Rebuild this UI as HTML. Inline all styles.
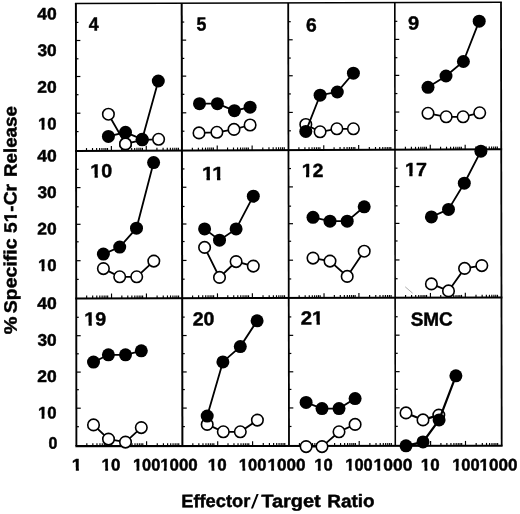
<!DOCTYPE html>
<html><head><meta charset="utf-8"><title>Figure</title>
<style>html,body{margin:0;padding:0;background:#fff;}body{width:520px;height:514px;overflow:hidden;font-family:"Liberation Sans",sans-serif;}svg{display:block;}</style>
</head><body>
<svg width="520" height="514" viewBox="0 0 520 514">
<rect width="520" height="514" fill="#fff"/>
<g stroke="#000" fill="none" stroke-linecap="butt">
<line x1="74.90" y1="3.60" x2="501.90" y2="2.20" stroke-width="1.5"/>
<line x1="75.07" y1="150.90" x2="502.13" y2="149.30" stroke-width="2.0"/>
<line x1="75.23" y1="298.40" x2="502.37" y2="297.60" stroke-width="2.0"/>
<line x1="75.40" y1="446.10" x2="502.60" y2="445.70" stroke-width="2.1"/>
<line x1="75.90" y1="3.60" x2="76.40" y2="446.10" stroke-width="1.9"/>
<line x1="181.70" y1="3.25" x2="182.40" y2="446.00" stroke-width="2.0"/>
<line x1="288.20" y1="2.90" x2="289.00" y2="445.90" stroke-width="1.8"/>
<line x1="394.80" y1="2.55" x2="395.30" y2="445.80" stroke-width="1.6"/>
<line x1="501.00" y1="2.20" x2="501.70" y2="445.70" stroke-width="1.8"/>
<line x1="75.92" y1="22.40" x2="78.42" y2="22.40" stroke-width="1.2"/>
<line x1="75.94" y1="40.50" x2="80.34" y2="40.50" stroke-width="1.2"/>
<line x1="75.96" y1="58.80" x2="78.46" y2="58.80" stroke-width="1.2"/>
<line x1="75.98" y1="76.50" x2="80.38" y2="76.50" stroke-width="1.2"/>
<line x1="76.00" y1="94.70" x2="78.50" y2="94.70" stroke-width="1.2"/>
<line x1="76.02" y1="113.20" x2="80.42" y2="113.20" stroke-width="1.2"/>
<line x1="76.05" y1="131.60" x2="78.55" y2="131.60" stroke-width="1.2"/>
<line x1="181.73" y1="22.05" x2="184.23" y2="22.05" stroke-width="1.2"/>
<line x1="181.76" y1="40.14" x2="186.16" y2="40.14" stroke-width="1.2"/>
<line x1="181.79" y1="58.43" x2="184.29" y2="58.43" stroke-width="1.2"/>
<line x1="181.82" y1="76.13" x2="186.22" y2="76.13" stroke-width="1.2"/>
<line x1="181.84" y1="94.32" x2="184.34" y2="94.32" stroke-width="1.2"/>
<line x1="181.87" y1="112.81" x2="186.27" y2="112.81" stroke-width="1.2"/>
<line x1="181.90" y1="131.21" x2="184.40" y2="131.21" stroke-width="1.2"/>
<line x1="288.24" y1="21.69" x2="290.74" y2="21.69" stroke-width="1.2"/>
<line x1="288.27" y1="39.78" x2="292.67" y2="39.78" stroke-width="1.2"/>
<line x1="288.30" y1="58.06" x2="290.80" y2="58.06" stroke-width="1.2"/>
<line x1="288.33" y1="75.75" x2="292.73" y2="75.75" stroke-width="1.2"/>
<line x1="288.37" y1="93.94" x2="290.87" y2="93.94" stroke-width="1.2"/>
<line x1="288.40" y1="112.43" x2="292.80" y2="112.43" stroke-width="1.2"/>
<line x1="288.43" y1="130.81" x2="290.93" y2="130.81" stroke-width="1.2"/>
<line x1="394.82" y1="21.33" x2="397.32" y2="21.33" stroke-width="1.2"/>
<line x1="394.84" y1="39.41" x2="399.24" y2="39.41" stroke-width="1.2"/>
<line x1="394.86" y1="57.69" x2="397.36" y2="57.69" stroke-width="1.2"/>
<line x1="394.88" y1="75.38" x2="399.28" y2="75.38" stroke-width="1.2"/>
<line x1="394.90" y1="93.56" x2="397.40" y2="93.56" stroke-width="1.2"/>
<line x1="394.92" y1="112.04" x2="399.32" y2="112.04" stroke-width="1.2"/>
<line x1="394.95" y1="130.42" x2="397.45" y2="130.42" stroke-width="1.2"/>
<line x1="76.09" y1="169.30" x2="78.59" y2="169.30" stroke-width="1.2"/>
<line x1="76.11" y1="187.60" x2="80.51" y2="187.60" stroke-width="1.2"/>
<line x1="76.13" y1="206.80" x2="78.63" y2="206.80" stroke-width="1.2"/>
<line x1="76.15" y1="224.30" x2="80.55" y2="224.30" stroke-width="1.2"/>
<line x1="76.17" y1="241.80" x2="78.67" y2="241.80" stroke-width="1.2"/>
<line x1="76.19" y1="260.70" x2="80.59" y2="260.70" stroke-width="1.2"/>
<line x1="76.21" y1="279.40" x2="78.71" y2="279.40" stroke-width="1.2"/>
<line x1="181.96" y1="168.93" x2="184.46" y2="168.93" stroke-width="1.2"/>
<line x1="181.99" y1="187.25" x2="186.39" y2="187.25" stroke-width="1.2"/>
<line x1="182.02" y1="206.48" x2="184.52" y2="206.48" stroke-width="1.2"/>
<line x1="182.05" y1="224.00" x2="186.45" y2="224.00" stroke-width="1.2"/>
<line x1="182.08" y1="241.53" x2="184.58" y2="241.53" stroke-width="1.2"/>
<line x1="182.11" y1="260.45" x2="186.51" y2="260.45" stroke-width="1.2"/>
<line x1="182.14" y1="279.18" x2="184.64" y2="279.18" stroke-width="1.2"/>
<line x1="288.50" y1="168.55" x2="291.00" y2="168.55" stroke-width="1.2"/>
<line x1="288.53" y1="186.90" x2="292.93" y2="186.90" stroke-width="1.2"/>
<line x1="288.57" y1="206.15" x2="291.07" y2="206.15" stroke-width="1.2"/>
<line x1="288.60" y1="223.70" x2="293.00" y2="223.70" stroke-width="1.2"/>
<line x1="288.63" y1="241.25" x2="291.13" y2="241.25" stroke-width="1.2"/>
<line x1="288.67" y1="260.20" x2="293.07" y2="260.20" stroke-width="1.2"/>
<line x1="288.70" y1="278.95" x2="291.20" y2="278.95" stroke-width="1.2"/>
<line x1="394.99" y1="168.18" x2="397.49" y2="168.18" stroke-width="1.2"/>
<line x1="395.01" y1="186.55" x2="399.41" y2="186.55" stroke-width="1.2"/>
<line x1="395.03" y1="205.83" x2="397.53" y2="205.83" stroke-width="1.2"/>
<line x1="395.05" y1="223.40" x2="399.45" y2="223.40" stroke-width="1.2"/>
<line x1="395.07" y1="240.98" x2="397.57" y2="240.98" stroke-width="1.2"/>
<line x1="395.09" y1="259.95" x2="399.49" y2="259.95" stroke-width="1.2"/>
<line x1="395.11" y1="278.73" x2="397.61" y2="278.73" stroke-width="1.2"/>
<line x1="76.25" y1="317.30" x2="78.75" y2="317.30" stroke-width="1.2"/>
<line x1="76.28" y1="335.70" x2="80.68" y2="335.70" stroke-width="1.2"/>
<line x1="76.30" y1="353.80" x2="78.80" y2="353.80" stroke-width="1.2"/>
<line x1="76.32" y1="372.10" x2="80.72" y2="372.10" stroke-width="1.2"/>
<line x1="76.34" y1="389.70" x2="78.84" y2="389.70" stroke-width="1.2"/>
<line x1="76.36" y1="408.20" x2="80.76" y2="408.20" stroke-width="1.2"/>
<line x1="76.38" y1="426.70" x2="78.88" y2="426.70" stroke-width="1.2"/>
<line x1="182.20" y1="317.11" x2="184.70" y2="317.11" stroke-width="1.2"/>
<line x1="182.23" y1="335.53" x2="186.63" y2="335.53" stroke-width="1.2"/>
<line x1="182.25" y1="353.64" x2="184.75" y2="353.64" stroke-width="1.2"/>
<line x1="182.28" y1="371.95" x2="186.68" y2="371.95" stroke-width="1.2"/>
<line x1="182.31" y1="389.56" x2="184.81" y2="389.56" stroke-width="1.2"/>
<line x1="182.34" y1="408.08" x2="186.74" y2="408.08" stroke-width="1.2"/>
<line x1="182.37" y1="426.59" x2="184.87" y2="426.59" stroke-width="1.2"/>
<line x1="288.77" y1="316.92" x2="291.27" y2="316.92" stroke-width="1.2"/>
<line x1="288.80" y1="335.35" x2="293.20" y2="335.35" stroke-width="1.2"/>
<line x1="288.83" y1="353.47" x2="291.33" y2="353.47" stroke-width="1.2"/>
<line x1="288.87" y1="371.80" x2="293.27" y2="371.80" stroke-width="1.2"/>
<line x1="288.90" y1="389.42" x2="291.40" y2="389.42" stroke-width="1.2"/>
<line x1="288.93" y1="407.95" x2="293.33" y2="407.95" stroke-width="1.2"/>
<line x1="288.97" y1="426.47" x2="291.47" y2="426.47" stroke-width="1.2"/>
<line x1="395.15" y1="316.74" x2="397.65" y2="316.74" stroke-width="1.2"/>
<line x1="395.18" y1="335.17" x2="399.58" y2="335.17" stroke-width="1.2"/>
<line x1="395.20" y1="353.31" x2="397.70" y2="353.31" stroke-width="1.2"/>
<line x1="395.22" y1="371.65" x2="399.62" y2="371.65" stroke-width="1.2"/>
<line x1="395.24" y1="389.29" x2="397.74" y2="389.29" stroke-width="1.2"/>
<line x1="395.26" y1="407.82" x2="399.66" y2="407.82" stroke-width="1.2"/>
<line x1="395.28" y1="426.36" x2="397.78" y2="426.36" stroke-width="1.2"/>
<line x1="86.50" y1="150.86" x2="86.50" y2="148.06" stroke-width="1.15"/>
<line x1="92.51" y1="150.84" x2="92.51" y2="148.04" stroke-width="1.15"/>
<line x1="96.63" y1="150.82" x2="96.63" y2="148.02" stroke-width="1.15"/>
<line x1="99.63" y1="150.81" x2="99.63" y2="148.01" stroke-width="1.15"/>
<line x1="101.94" y1="150.80" x2="101.94" y2="148.00" stroke-width="1.15"/>
<line x1="104.00" y1="150.79" x2="104.00" y2="147.99" stroke-width="1.15"/>
<line x1="105.85" y1="150.79" x2="105.85" y2="147.99" stroke-width="1.15"/>
<line x1="107.51" y1="150.78" x2="107.51" y2="147.98" stroke-width="1.15"/>
<line x1="111.37" y1="150.77" x2="111.37" y2="145.97" stroke-width="1.15"/>
<line x1="121.68" y1="150.73" x2="121.68" y2="147.93" stroke-width="1.15"/>
<line x1="127.63" y1="150.71" x2="127.63" y2="147.91" stroke-width="1.15"/>
<line x1="131.69" y1="150.69" x2="131.69" y2="147.89" stroke-width="1.15"/>
<line x1="134.67" y1="150.68" x2="134.67" y2="147.88" stroke-width="1.15"/>
<line x1="136.95" y1="150.67" x2="136.95" y2="147.87" stroke-width="1.15"/>
<line x1="138.98" y1="150.66" x2="138.98" y2="147.86" stroke-width="1.15"/>
<line x1="140.81" y1="150.66" x2="140.81" y2="147.86" stroke-width="1.15"/>
<line x1="142.45" y1="150.65" x2="142.45" y2="147.85" stroke-width="1.15"/>
<line x1="146.27" y1="150.64" x2="146.27" y2="145.84" stroke-width="1.15"/>
<line x1="156.93" y1="150.60" x2="156.93" y2="147.80" stroke-width="1.15"/>
<line x1="163.09" y1="150.57" x2="163.09" y2="147.77" stroke-width="1.15"/>
<line x1="167.29" y1="150.56" x2="167.29" y2="147.76" stroke-width="1.15"/>
<line x1="170.37" y1="150.55" x2="170.37" y2="147.75" stroke-width="1.15"/>
<line x1="172.73" y1="150.54" x2="172.73" y2="147.74" stroke-width="1.15"/>
<line x1="174.83" y1="150.53" x2="174.83" y2="147.73" stroke-width="1.15"/>
<line x1="176.73" y1="150.52" x2="176.73" y2="147.72" stroke-width="1.15"/>
<line x1="178.42" y1="150.51" x2="178.42" y2="147.71" stroke-width="1.15"/>
<line x1="192.36" y1="150.46" x2="192.36" y2="147.66" stroke-width="1.15"/>
<line x1="198.38" y1="150.44" x2="198.38" y2="147.64" stroke-width="1.15"/>
<line x1="202.49" y1="150.42" x2="202.49" y2="147.62" stroke-width="1.15"/>
<line x1="205.50" y1="150.41" x2="205.50" y2="147.61" stroke-width="1.15"/>
<line x1="207.81" y1="150.40" x2="207.81" y2="147.60" stroke-width="1.15"/>
<line x1="209.86" y1="150.40" x2="209.86" y2="147.60" stroke-width="1.15"/>
<line x1="211.72" y1="150.39" x2="211.72" y2="147.59" stroke-width="1.15"/>
<line x1="213.37" y1="150.38" x2="213.37" y2="147.58" stroke-width="1.15"/>
<line x1="217.23" y1="150.37" x2="217.23" y2="145.57" stroke-width="1.15"/>
<line x1="227.55" y1="150.33" x2="227.55" y2="147.53" stroke-width="1.15"/>
<line x1="233.49" y1="150.31" x2="233.49" y2="147.51" stroke-width="1.15"/>
<line x1="237.56" y1="150.29" x2="237.56" y2="147.49" stroke-width="1.15"/>
<line x1="240.53" y1="150.28" x2="240.53" y2="147.48" stroke-width="1.15"/>
<line x1="242.81" y1="150.27" x2="242.81" y2="147.47" stroke-width="1.15"/>
<line x1="244.85" y1="150.27" x2="244.85" y2="147.47" stroke-width="1.15"/>
<line x1="246.68" y1="150.26" x2="246.68" y2="147.46" stroke-width="1.15"/>
<line x1="248.32" y1="150.25" x2="248.32" y2="147.45" stroke-width="1.15"/>
<line x1="252.13" y1="150.24" x2="252.13" y2="145.44" stroke-width="1.15"/>
<line x1="262.80" y1="150.20" x2="262.80" y2="147.40" stroke-width="1.15"/>
<line x1="268.95" y1="150.17" x2="268.95" y2="147.37" stroke-width="1.15"/>
<line x1="273.16" y1="150.16" x2="273.16" y2="147.36" stroke-width="1.15"/>
<line x1="276.23" y1="150.15" x2="276.23" y2="147.35" stroke-width="1.15"/>
<line x1="278.59" y1="150.14" x2="278.59" y2="147.34" stroke-width="1.15"/>
<line x1="280.70" y1="150.13" x2="280.70" y2="147.33" stroke-width="1.15"/>
<line x1="282.59" y1="150.12" x2="282.59" y2="147.32" stroke-width="1.15"/>
<line x1="284.29" y1="150.12" x2="284.29" y2="147.32" stroke-width="1.15"/>
<line x1="298.90" y1="150.06" x2="298.90" y2="147.26" stroke-width="1.15"/>
<line x1="304.91" y1="150.04" x2="304.91" y2="147.24" stroke-width="1.15"/>
<line x1="309.03" y1="150.02" x2="309.03" y2="147.22" stroke-width="1.15"/>
<line x1="312.03" y1="150.01" x2="312.03" y2="147.21" stroke-width="1.15"/>
<line x1="314.34" y1="150.00" x2="314.34" y2="147.20" stroke-width="1.15"/>
<line x1="316.40" y1="150.00" x2="316.40" y2="147.20" stroke-width="1.15"/>
<line x1="318.25" y1="149.99" x2="318.25" y2="147.19" stroke-width="1.15"/>
<line x1="319.91" y1="149.98" x2="319.91" y2="147.18" stroke-width="1.15"/>
<line x1="323.77" y1="149.97" x2="323.77" y2="145.17" stroke-width="1.15"/>
<line x1="334.08" y1="149.93" x2="334.08" y2="147.13" stroke-width="1.15"/>
<line x1="340.03" y1="149.91" x2="340.03" y2="147.11" stroke-width="1.15"/>
<line x1="344.09" y1="149.89" x2="344.09" y2="147.09" stroke-width="1.15"/>
<line x1="347.07" y1="149.88" x2="347.07" y2="147.08" stroke-width="1.15"/>
<line x1="349.35" y1="149.87" x2="349.35" y2="147.07" stroke-width="1.15"/>
<line x1="351.38" y1="149.86" x2="351.38" y2="147.06" stroke-width="1.15"/>
<line x1="353.21" y1="149.86" x2="353.21" y2="147.06" stroke-width="1.15"/>
<line x1="354.85" y1="149.85" x2="354.85" y2="147.05" stroke-width="1.15"/>
<line x1="358.67" y1="149.84" x2="358.67" y2="145.04" stroke-width="1.15"/>
<line x1="369.33" y1="149.80" x2="369.33" y2="147.00" stroke-width="1.15"/>
<line x1="375.49" y1="149.77" x2="375.49" y2="146.97" stroke-width="1.15"/>
<line x1="379.69" y1="149.76" x2="379.69" y2="146.96" stroke-width="1.15"/>
<line x1="382.77" y1="149.75" x2="382.77" y2="146.95" stroke-width="1.15"/>
<line x1="385.13" y1="149.74" x2="385.13" y2="146.94" stroke-width="1.15"/>
<line x1="387.23" y1="149.73" x2="387.23" y2="146.93" stroke-width="1.15"/>
<line x1="389.13" y1="149.72" x2="389.13" y2="146.92" stroke-width="1.15"/>
<line x1="390.82" y1="149.72" x2="390.82" y2="146.92" stroke-width="1.15"/>
<line x1="405.40" y1="149.66" x2="405.40" y2="146.86" stroke-width="1.15"/>
<line x1="411.41" y1="149.64" x2="411.41" y2="146.84" stroke-width="1.15"/>
<line x1="415.53" y1="149.62" x2="415.53" y2="146.82" stroke-width="1.15"/>
<line x1="418.53" y1="149.61" x2="418.53" y2="146.81" stroke-width="1.15"/>
<line x1="420.84" y1="149.60" x2="420.84" y2="146.80" stroke-width="1.15"/>
<line x1="422.90" y1="149.60" x2="422.90" y2="146.80" stroke-width="1.15"/>
<line x1="424.75" y1="149.59" x2="424.75" y2="146.79" stroke-width="1.15"/>
<line x1="426.41" y1="149.58" x2="426.41" y2="146.78" stroke-width="1.15"/>
<line x1="430.27" y1="149.57" x2="430.27" y2="144.77" stroke-width="1.15"/>
<line x1="440.58" y1="149.53" x2="440.58" y2="146.73" stroke-width="1.15"/>
<line x1="446.53" y1="149.51" x2="446.53" y2="146.71" stroke-width="1.15"/>
<line x1="450.59" y1="149.49" x2="450.59" y2="146.69" stroke-width="1.15"/>
<line x1="453.57" y1="149.48" x2="453.57" y2="146.68" stroke-width="1.15"/>
<line x1="455.85" y1="149.47" x2="455.85" y2="146.67" stroke-width="1.15"/>
<line x1="457.88" y1="149.46" x2="457.88" y2="146.66" stroke-width="1.15"/>
<line x1="459.71" y1="149.46" x2="459.71" y2="146.66" stroke-width="1.15"/>
<line x1="461.35" y1="149.45" x2="461.35" y2="146.65" stroke-width="1.15"/>
<line x1="465.17" y1="149.44" x2="465.17" y2="144.64" stroke-width="1.15"/>
<line x1="475.83" y1="149.40" x2="475.83" y2="146.60" stroke-width="1.15"/>
<line x1="481.99" y1="149.37" x2="481.99" y2="146.57" stroke-width="1.15"/>
<line x1="486.19" y1="149.36" x2="486.19" y2="146.56" stroke-width="1.15"/>
<line x1="489.27" y1="149.35" x2="489.27" y2="146.55" stroke-width="1.15"/>
<line x1="491.63" y1="149.34" x2="491.63" y2="146.54" stroke-width="1.15"/>
<line x1="493.73" y1="149.33" x2="493.73" y2="146.53" stroke-width="1.15"/>
<line x1="495.63" y1="149.32" x2="495.63" y2="146.52" stroke-width="1.15"/>
<line x1="497.32" y1="149.32" x2="497.32" y2="146.52" stroke-width="1.15"/>
<line x1="86.66" y1="298.38" x2="86.66" y2="295.58" stroke-width="1.15"/>
<line x1="92.68" y1="298.37" x2="92.68" y2="295.57" stroke-width="1.15"/>
<line x1="96.79" y1="298.36" x2="96.79" y2="295.56" stroke-width="1.15"/>
<line x1="99.80" y1="298.36" x2="99.80" y2="295.56" stroke-width="1.15"/>
<line x1="102.11" y1="298.35" x2="102.11" y2="295.55" stroke-width="1.15"/>
<line x1="104.16" y1="298.35" x2="104.16" y2="295.55" stroke-width="1.15"/>
<line x1="106.02" y1="298.34" x2="106.02" y2="295.54" stroke-width="1.15"/>
<line x1="107.67" y1="298.34" x2="107.67" y2="295.54" stroke-width="1.15"/>
<line x1="111.53" y1="298.33" x2="111.53" y2="293.53" stroke-width="1.15"/>
<line x1="121.84" y1="298.31" x2="121.84" y2="295.51" stroke-width="1.15"/>
<line x1="127.79" y1="298.30" x2="127.79" y2="295.50" stroke-width="1.15"/>
<line x1="131.86" y1="298.29" x2="131.86" y2="295.49" stroke-width="1.15"/>
<line x1="134.83" y1="298.29" x2="134.83" y2="295.49" stroke-width="1.15"/>
<line x1="137.11" y1="298.29" x2="137.11" y2="295.49" stroke-width="1.15"/>
<line x1="139.15" y1="298.28" x2="139.15" y2="295.48" stroke-width="1.15"/>
<line x1="140.98" y1="298.28" x2="140.98" y2="295.48" stroke-width="1.15"/>
<line x1="142.62" y1="298.27" x2="142.62" y2="295.47" stroke-width="1.15"/>
<line x1="146.43" y1="298.27" x2="146.43" y2="293.47" stroke-width="1.15"/>
<line x1="157.10" y1="298.25" x2="157.10" y2="295.45" stroke-width="1.15"/>
<line x1="163.25" y1="298.24" x2="163.25" y2="295.44" stroke-width="1.15"/>
<line x1="167.46" y1="298.23" x2="167.46" y2="295.43" stroke-width="1.15"/>
<line x1="170.53" y1="298.22" x2="170.53" y2="295.42" stroke-width="1.15"/>
<line x1="172.89" y1="298.22" x2="172.89" y2="295.42" stroke-width="1.15"/>
<line x1="175.00" y1="298.21" x2="175.00" y2="295.41" stroke-width="1.15"/>
<line x1="176.89" y1="298.21" x2="176.89" y2="295.41" stroke-width="1.15"/>
<line x1="178.59" y1="298.21" x2="178.59" y2="295.41" stroke-width="1.15"/>
<line x1="192.60" y1="298.18" x2="192.60" y2="295.38" stroke-width="1.15"/>
<line x1="198.61" y1="298.17" x2="198.61" y2="295.37" stroke-width="1.15"/>
<line x1="202.73" y1="298.16" x2="202.73" y2="295.36" stroke-width="1.15"/>
<line x1="205.73" y1="298.16" x2="205.73" y2="295.36" stroke-width="1.15"/>
<line x1="208.04" y1="298.15" x2="208.04" y2="295.35" stroke-width="1.15"/>
<line x1="210.10" y1="298.15" x2="210.10" y2="295.35" stroke-width="1.15"/>
<line x1="211.95" y1="298.14" x2="211.95" y2="295.34" stroke-width="1.15"/>
<line x1="213.61" y1="298.14" x2="213.61" y2="295.34" stroke-width="1.15"/>
<line x1="217.47" y1="298.13" x2="217.47" y2="293.33" stroke-width="1.15"/>
<line x1="227.78" y1="298.11" x2="227.78" y2="295.31" stroke-width="1.15"/>
<line x1="233.73" y1="298.10" x2="233.73" y2="295.30" stroke-width="1.15"/>
<line x1="237.79" y1="298.10" x2="237.79" y2="295.30" stroke-width="1.15"/>
<line x1="240.77" y1="298.09" x2="240.77" y2="295.29" stroke-width="1.15"/>
<line x1="243.05" y1="298.09" x2="243.05" y2="295.29" stroke-width="1.15"/>
<line x1="245.08" y1="298.08" x2="245.08" y2="295.28" stroke-width="1.15"/>
<line x1="246.91" y1="298.08" x2="246.91" y2="295.28" stroke-width="1.15"/>
<line x1="248.55" y1="298.08" x2="248.55" y2="295.28" stroke-width="1.15"/>
<line x1="252.37" y1="298.07" x2="252.37" y2="293.27" stroke-width="1.15"/>
<line x1="263.03" y1="298.05" x2="263.03" y2="295.25" stroke-width="1.15"/>
<line x1="269.19" y1="298.04" x2="269.19" y2="295.24" stroke-width="1.15"/>
<line x1="273.39" y1="298.03" x2="273.39" y2="295.23" stroke-width="1.15"/>
<line x1="276.47" y1="298.02" x2="276.47" y2="295.22" stroke-width="1.15"/>
<line x1="278.83" y1="298.02" x2="278.83" y2="295.22" stroke-width="1.15"/>
<line x1="280.93" y1="298.01" x2="280.93" y2="295.21" stroke-width="1.15"/>
<line x1="282.83" y1="298.01" x2="282.83" y2="295.21" stroke-width="1.15"/>
<line x1="284.52" y1="298.01" x2="284.52" y2="295.21" stroke-width="1.15"/>
<line x1="299.16" y1="297.98" x2="299.16" y2="295.18" stroke-width="1.15"/>
<line x1="305.18" y1="297.97" x2="305.18" y2="295.17" stroke-width="1.15"/>
<line x1="309.29" y1="297.96" x2="309.29" y2="295.16" stroke-width="1.15"/>
<line x1="312.30" y1="297.96" x2="312.30" y2="295.16" stroke-width="1.15"/>
<line x1="314.61" y1="297.95" x2="314.61" y2="295.15" stroke-width="1.15"/>
<line x1="316.66" y1="297.95" x2="316.66" y2="295.15" stroke-width="1.15"/>
<line x1="318.52" y1="297.94" x2="318.52" y2="295.14" stroke-width="1.15"/>
<line x1="320.17" y1="297.94" x2="320.17" y2="295.14" stroke-width="1.15"/>
<line x1="324.03" y1="297.93" x2="324.03" y2="293.13" stroke-width="1.15"/>
<line x1="334.35" y1="297.91" x2="334.35" y2="295.11" stroke-width="1.15"/>
<line x1="340.29" y1="297.90" x2="340.29" y2="295.10" stroke-width="1.15"/>
<line x1="344.36" y1="297.90" x2="344.36" y2="295.10" stroke-width="1.15"/>
<line x1="347.33" y1="297.89" x2="347.33" y2="295.09" stroke-width="1.15"/>
<line x1="349.61" y1="297.89" x2="349.61" y2="295.09" stroke-width="1.15"/>
<line x1="351.65" y1="297.88" x2="351.65" y2="295.08" stroke-width="1.15"/>
<line x1="353.48" y1="297.88" x2="353.48" y2="295.08" stroke-width="1.15"/>
<line x1="355.12" y1="297.88" x2="355.12" y2="295.08" stroke-width="1.15"/>
<line x1="358.93" y1="297.87" x2="358.93" y2="293.07" stroke-width="1.15"/>
<line x1="369.60" y1="297.85" x2="369.60" y2="295.05" stroke-width="1.15"/>
<line x1="375.75" y1="297.84" x2="375.75" y2="295.04" stroke-width="1.15"/>
<line x1="379.96" y1="297.83" x2="379.96" y2="295.03" stroke-width="1.15"/>
<line x1="383.03" y1="297.82" x2="383.03" y2="295.02" stroke-width="1.15"/>
<line x1="385.39" y1="297.82" x2="385.39" y2="295.02" stroke-width="1.15"/>
<line x1="387.50" y1="297.81" x2="387.50" y2="295.01" stroke-width="1.15"/>
<line x1="389.39" y1="297.81" x2="389.39" y2="295.01" stroke-width="1.15"/>
<line x1="391.09" y1="297.81" x2="391.09" y2="295.01" stroke-width="1.15"/>
<line x1="405.56" y1="297.78" x2="405.56" y2="294.98" stroke-width="1.15"/>
<line x1="411.58" y1="297.77" x2="411.58" y2="294.97" stroke-width="1.15"/>
<line x1="415.69" y1="297.76" x2="415.69" y2="294.96" stroke-width="1.15"/>
<line x1="418.70" y1="297.76" x2="418.70" y2="294.96" stroke-width="1.15"/>
<line x1="421.01" y1="297.75" x2="421.01" y2="294.95" stroke-width="1.15"/>
<line x1="423.06" y1="297.75" x2="423.06" y2="294.95" stroke-width="1.15"/>
<line x1="424.92" y1="297.74" x2="424.92" y2="294.94" stroke-width="1.15"/>
<line x1="426.57" y1="297.74" x2="426.57" y2="294.94" stroke-width="1.15"/>
<line x1="430.43" y1="297.73" x2="430.43" y2="292.93" stroke-width="1.15"/>
<line x1="440.74" y1="297.71" x2="440.74" y2="294.91" stroke-width="1.15"/>
<line x1="446.69" y1="297.70" x2="446.69" y2="294.90" stroke-width="1.15"/>
<line x1="450.76" y1="297.70" x2="450.76" y2="294.90" stroke-width="1.15"/>
<line x1="453.73" y1="297.69" x2="453.73" y2="294.89" stroke-width="1.15"/>
<line x1="456.01" y1="297.69" x2="456.01" y2="294.89" stroke-width="1.15"/>
<line x1="458.05" y1="297.68" x2="458.05" y2="294.88" stroke-width="1.15"/>
<line x1="459.88" y1="297.68" x2="459.88" y2="294.88" stroke-width="1.15"/>
<line x1="461.52" y1="297.68" x2="461.52" y2="294.88" stroke-width="1.15"/>
<line x1="465.33" y1="297.67" x2="465.33" y2="292.87" stroke-width="1.15"/>
<line x1="476.00" y1="297.65" x2="476.00" y2="294.85" stroke-width="1.15"/>
<line x1="482.15" y1="297.64" x2="482.15" y2="294.84" stroke-width="1.15"/>
<line x1="486.36" y1="297.63" x2="486.36" y2="294.83" stroke-width="1.15"/>
<line x1="489.43" y1="297.62" x2="489.43" y2="294.82" stroke-width="1.15"/>
<line x1="491.79" y1="297.62" x2="491.79" y2="294.82" stroke-width="1.15"/>
<line x1="493.90" y1="297.61" x2="493.90" y2="294.81" stroke-width="1.15"/>
<line x1="495.79" y1="297.61" x2="495.79" y2="294.81" stroke-width="1.15"/>
<line x1="497.49" y1="297.61" x2="497.49" y2="294.81" stroke-width="1.15"/>
<line x1="86.83" y1="446.09" x2="86.83" y2="443.29" stroke-width="1.15"/>
<line x1="92.85" y1="446.08" x2="92.85" y2="443.28" stroke-width="1.15"/>
<line x1="96.96" y1="446.08" x2="96.96" y2="443.28" stroke-width="1.15"/>
<line x1="99.97" y1="446.08" x2="99.97" y2="443.28" stroke-width="1.15"/>
<line x1="102.27" y1="446.08" x2="102.27" y2="443.28" stroke-width="1.15"/>
<line x1="104.33" y1="446.07" x2="104.33" y2="443.27" stroke-width="1.15"/>
<line x1="106.18" y1="446.07" x2="106.18" y2="443.27" stroke-width="1.15"/>
<line x1="107.84" y1="446.07" x2="107.84" y2="443.27" stroke-width="1.15"/>
<line x1="111.70" y1="446.07" x2="111.70" y2="441.27" stroke-width="1.15"/>
<line x1="122.01" y1="446.06" x2="122.01" y2="443.26" stroke-width="1.15"/>
<line x1="127.96" y1="446.05" x2="127.96" y2="443.25" stroke-width="1.15"/>
<line x1="132.03" y1="446.05" x2="132.03" y2="443.25" stroke-width="1.15"/>
<line x1="135.00" y1="446.04" x2="135.00" y2="443.24" stroke-width="1.15"/>
<line x1="137.28" y1="446.04" x2="137.28" y2="443.24" stroke-width="1.15"/>
<line x1="139.31" y1="446.04" x2="139.31" y2="443.24" stroke-width="1.15"/>
<line x1="141.15" y1="446.04" x2="141.15" y2="443.24" stroke-width="1.15"/>
<line x1="142.78" y1="446.04" x2="142.78" y2="443.24" stroke-width="1.15"/>
<line x1="146.60" y1="446.03" x2="146.60" y2="441.23" stroke-width="1.15"/>
<line x1="157.27" y1="446.02" x2="157.27" y2="443.22" stroke-width="1.15"/>
<line x1="163.42" y1="446.02" x2="163.42" y2="443.22" stroke-width="1.15"/>
<line x1="167.62" y1="446.01" x2="167.62" y2="443.21" stroke-width="1.15"/>
<line x1="170.70" y1="446.01" x2="170.70" y2="443.21" stroke-width="1.15"/>
<line x1="173.06" y1="446.01" x2="173.06" y2="443.21" stroke-width="1.15"/>
<line x1="175.16" y1="446.01" x2="175.16" y2="443.21" stroke-width="1.15"/>
<line x1="177.06" y1="446.00" x2="177.06" y2="443.20" stroke-width="1.15"/>
<line x1="178.75" y1="446.00" x2="178.75" y2="443.20" stroke-width="1.15"/>
<line x1="192.83" y1="445.99" x2="192.83" y2="443.19" stroke-width="1.15"/>
<line x1="198.85" y1="445.98" x2="198.85" y2="443.18" stroke-width="1.15"/>
<line x1="202.96" y1="445.98" x2="202.96" y2="443.18" stroke-width="1.15"/>
<line x1="205.97" y1="445.98" x2="205.97" y2="443.18" stroke-width="1.15"/>
<line x1="208.27" y1="445.98" x2="208.27" y2="443.18" stroke-width="1.15"/>
<line x1="210.33" y1="445.97" x2="210.33" y2="443.17" stroke-width="1.15"/>
<line x1="212.19" y1="445.97" x2="212.19" y2="443.17" stroke-width="1.15"/>
<line x1="213.84" y1="445.97" x2="213.84" y2="443.17" stroke-width="1.15"/>
<line x1="217.70" y1="445.97" x2="217.70" y2="441.17" stroke-width="1.15"/>
<line x1="228.01" y1="445.96" x2="228.01" y2="443.16" stroke-width="1.15"/>
<line x1="233.96" y1="445.95" x2="233.96" y2="443.15" stroke-width="1.15"/>
<line x1="238.03" y1="445.95" x2="238.03" y2="443.15" stroke-width="1.15"/>
<line x1="241.00" y1="445.94" x2="241.00" y2="443.14" stroke-width="1.15"/>
<line x1="243.28" y1="445.94" x2="243.28" y2="443.14" stroke-width="1.15"/>
<line x1="245.31" y1="445.94" x2="245.31" y2="443.14" stroke-width="1.15"/>
<line x1="247.15" y1="445.94" x2="247.15" y2="443.14" stroke-width="1.15"/>
<line x1="248.78" y1="445.94" x2="248.78" y2="443.14" stroke-width="1.15"/>
<line x1="252.60" y1="445.93" x2="252.60" y2="441.13" stroke-width="1.15"/>
<line x1="263.27" y1="445.92" x2="263.27" y2="443.12" stroke-width="1.15"/>
<line x1="269.42" y1="445.92" x2="269.42" y2="443.12" stroke-width="1.15"/>
<line x1="273.62" y1="445.91" x2="273.62" y2="443.11" stroke-width="1.15"/>
<line x1="276.70" y1="445.91" x2="276.70" y2="443.11" stroke-width="1.15"/>
<line x1="279.06" y1="445.91" x2="279.06" y2="443.11" stroke-width="1.15"/>
<line x1="281.16" y1="445.91" x2="281.16" y2="443.11" stroke-width="1.15"/>
<line x1="283.06" y1="445.91" x2="283.06" y2="443.11" stroke-width="1.15"/>
<line x1="284.75" y1="445.90" x2="284.75" y2="443.10" stroke-width="1.15"/>
<line x1="299.43" y1="445.89" x2="299.43" y2="443.09" stroke-width="1.15"/>
<line x1="305.45" y1="445.88" x2="305.45" y2="443.08" stroke-width="1.15"/>
<line x1="309.56" y1="445.88" x2="309.56" y2="443.08" stroke-width="1.15"/>
<line x1="312.57" y1="445.88" x2="312.57" y2="443.08" stroke-width="1.15"/>
<line x1="314.87" y1="445.88" x2="314.87" y2="443.08" stroke-width="1.15"/>
<line x1="316.93" y1="445.87" x2="316.93" y2="443.07" stroke-width="1.15"/>
<line x1="318.79" y1="445.87" x2="318.79" y2="443.07" stroke-width="1.15"/>
<line x1="320.44" y1="445.87" x2="320.44" y2="443.07" stroke-width="1.15"/>
<line x1="324.30" y1="445.87" x2="324.30" y2="441.07" stroke-width="1.15"/>
<line x1="334.61" y1="445.86" x2="334.61" y2="443.06" stroke-width="1.15"/>
<line x1="340.56" y1="445.85" x2="340.56" y2="443.05" stroke-width="1.15"/>
<line x1="344.63" y1="445.85" x2="344.63" y2="443.05" stroke-width="1.15"/>
<line x1="347.60" y1="445.84" x2="347.60" y2="443.04" stroke-width="1.15"/>
<line x1="349.88" y1="445.84" x2="349.88" y2="443.04" stroke-width="1.15"/>
<line x1="351.91" y1="445.84" x2="351.91" y2="443.04" stroke-width="1.15"/>
<line x1="353.75" y1="445.84" x2="353.75" y2="443.04" stroke-width="1.15"/>
<line x1="355.38" y1="445.84" x2="355.38" y2="443.04" stroke-width="1.15"/>
<line x1="359.20" y1="445.83" x2="359.20" y2="441.03" stroke-width="1.15"/>
<line x1="369.87" y1="445.82" x2="369.87" y2="443.02" stroke-width="1.15"/>
<line x1="376.02" y1="445.82" x2="376.02" y2="443.02" stroke-width="1.15"/>
<line x1="380.22" y1="445.81" x2="380.22" y2="443.01" stroke-width="1.15"/>
<line x1="383.30" y1="445.81" x2="383.30" y2="443.01" stroke-width="1.15"/>
<line x1="385.66" y1="445.81" x2="385.66" y2="443.01" stroke-width="1.15"/>
<line x1="387.76" y1="445.81" x2="387.76" y2="443.01" stroke-width="1.15"/>
<line x1="389.66" y1="445.81" x2="389.66" y2="443.01" stroke-width="1.15"/>
<line x1="391.35" y1="445.80" x2="391.35" y2="443.00" stroke-width="1.15"/>
<line x1="405.73" y1="445.79" x2="405.73" y2="442.99" stroke-width="1.15"/>
<line x1="411.75" y1="445.78" x2="411.75" y2="442.98" stroke-width="1.15"/>
<line x1="415.86" y1="445.78" x2="415.86" y2="442.98" stroke-width="1.15"/>
<line x1="418.87" y1="445.78" x2="418.87" y2="442.98" stroke-width="1.15"/>
<line x1="421.17" y1="445.78" x2="421.17" y2="442.98" stroke-width="1.15"/>
<line x1="423.23" y1="445.77" x2="423.23" y2="442.97" stroke-width="1.15"/>
<line x1="425.08" y1="445.77" x2="425.08" y2="442.97" stroke-width="1.15"/>
<line x1="426.74" y1="445.77" x2="426.74" y2="442.97" stroke-width="1.15"/>
<line x1="430.60" y1="445.77" x2="430.60" y2="440.97" stroke-width="1.15"/>
<line x1="440.91" y1="445.76" x2="440.91" y2="442.96" stroke-width="1.15"/>
<line x1="446.86" y1="445.75" x2="446.86" y2="442.95" stroke-width="1.15"/>
<line x1="450.93" y1="445.75" x2="450.93" y2="442.95" stroke-width="1.15"/>
<line x1="453.90" y1="445.74" x2="453.90" y2="442.94" stroke-width="1.15"/>
<line x1="456.18" y1="445.74" x2="456.18" y2="442.94" stroke-width="1.15"/>
<line x1="458.21" y1="445.74" x2="458.21" y2="442.94" stroke-width="1.15"/>
<line x1="460.05" y1="445.74" x2="460.05" y2="442.94" stroke-width="1.15"/>
<line x1="461.68" y1="445.74" x2="461.68" y2="442.94" stroke-width="1.15"/>
<line x1="465.50" y1="445.73" x2="465.50" y2="440.93" stroke-width="1.15"/>
<line x1="476.17" y1="445.72" x2="476.17" y2="442.92" stroke-width="1.15"/>
<line x1="482.32" y1="445.72" x2="482.32" y2="442.92" stroke-width="1.15"/>
<line x1="486.52" y1="445.71" x2="486.52" y2="442.91" stroke-width="1.15"/>
<line x1="489.60" y1="445.71" x2="489.60" y2="442.91" stroke-width="1.15"/>
<line x1="491.96" y1="445.71" x2="491.96" y2="442.91" stroke-width="1.15"/>
<line x1="494.06" y1="445.71" x2="494.06" y2="442.91" stroke-width="1.15"/>
<line x1="495.96" y1="445.71" x2="495.96" y2="442.91" stroke-width="1.15"/>
<line x1="497.65" y1="445.70" x2="497.65" y2="442.90" stroke-width="1.15"/>
</g>
<polyline points="108.4,114.2 125.5,143.9 142.2,139.8 158.6,139.3" fill="none" stroke="#000" stroke-width="1.8"/>
<circle cx="108.4" cy="114.2" r="5.75" fill="#fff" stroke="#000" stroke-width="1.6"/>
<circle cx="125.5" cy="143.9" r="5.75" fill="#fff" stroke="#000" stroke-width="1.6"/>
<circle cx="142.2" cy="139.8" r="5.75" fill="#fff" stroke="#000" stroke-width="1.6"/>
<circle cx="158.6" cy="139.3" r="5.75" fill="#fff" stroke="#000" stroke-width="1.6"/>
<polyline points="108.4,136.4 125.5,132.3 142.2,139.3 158.3,81.0" fill="none" stroke="#000" stroke-width="1.8"/>
<circle cx="108.4" cy="136.4" r="6.5" fill="#000"/>
<circle cx="125.5" cy="132.3" r="6.5" fill="#000"/>
<circle cx="142.2" cy="139.3" r="6.5" fill="#000"/>
<circle cx="158.3" cy="81.0" r="6.5" fill="#000"/>
<circle cx="125.5" cy="143.9" r="5.75" fill="#fff" stroke="#000" stroke-width="1.6"/>
<polyline points="199.0,132.9 216.9,132.3 234.0,129.4 250.1,125.0" fill="none" stroke="#000" stroke-width="1.8"/>
<circle cx="199.0" cy="132.9" r="5.75" fill="#fff" stroke="#000" stroke-width="1.6"/>
<circle cx="216.9" cy="132.3" r="5.75" fill="#fff" stroke="#000" stroke-width="1.6"/>
<circle cx="234.0" cy="129.4" r="5.75" fill="#fff" stroke="#000" stroke-width="1.6"/>
<circle cx="250.1" cy="125.0" r="5.75" fill="#fff" stroke="#000" stroke-width="1.6"/>
<polyline points="199.5,103.7 217.4,103.7 234.4,110.7 250.1,107.2" fill="none" stroke="#000" stroke-width="1.8"/>
<circle cx="199.5" cy="103.7" r="6.5" fill="#000"/>
<circle cx="217.4" cy="103.7" r="6.5" fill="#000"/>
<circle cx="234.4" cy="110.7" r="6.5" fill="#000"/>
<circle cx="250.1" cy="107.2" r="6.5" fill="#000"/>
<polyline points="305.8,124.5 320.1,131.8 336.9,128.8 353.4,128.8" fill="none" stroke="#000" stroke-width="1.8"/>
<circle cx="305.8" cy="124.5" r="5.75" fill="#fff" stroke="#000" stroke-width="1.6"/>
<circle cx="320.1" cy="131.8" r="5.75" fill="#fff" stroke="#000" stroke-width="1.6"/>
<circle cx="336.9" cy="128.8" r="5.75" fill="#fff" stroke="#000" stroke-width="1.6"/>
<circle cx="353.4" cy="128.8" r="5.75" fill="#fff" stroke="#000" stroke-width="1.6"/>
<polyline points="305.8,131.4 320.1,95.2 337.3,92.0 353.4,73.2" fill="none" stroke="#000" stroke-width="1.8"/>
<circle cx="305.8" cy="131.4" r="6.5" fill="#000"/>
<circle cx="320.1" cy="95.2" r="6.5" fill="#000"/>
<circle cx="337.3" cy="92.0" r="6.5" fill="#000"/>
<circle cx="353.4" cy="73.2" r="6.5" fill="#000"/>
<polyline points="428.0,113.3 446.2,116.8 463.1,116.8 479.7,112.8" fill="none" stroke="#000" stroke-width="1.8"/>
<circle cx="428.0" cy="113.3" r="5.75" fill="#fff" stroke="#000" stroke-width="1.6"/>
<circle cx="446.2" cy="116.8" r="5.75" fill="#fff" stroke="#000" stroke-width="1.6"/>
<circle cx="463.1" cy="116.8" r="5.75" fill="#fff" stroke="#000" stroke-width="1.6"/>
<circle cx="479.7" cy="112.8" r="5.75" fill="#fff" stroke="#000" stroke-width="1.6"/>
<polyline points="428.0,87.3 446.0,76.0 463.4,61.5 479.2,21.2" fill="none" stroke="#000" stroke-width="1.8"/>
<circle cx="428.0" cy="87.3" r="6.5" fill="#000"/>
<circle cx="446.0" cy="76.0" r="6.5" fill="#000"/>
<circle cx="463.4" cy="61.5" r="6.5" fill="#000"/>
<circle cx="479.2" cy="21.2" r="6.5" fill="#000"/>
<polyline points="103.4,268.6 119.7,276.8 136.7,276.8 153.8,261.1" fill="none" stroke="#000" stroke-width="1.8"/>
<circle cx="103.4" cy="268.6" r="5.75" fill="#fff" stroke="#000" stroke-width="1.6"/>
<circle cx="119.7" cy="276.8" r="5.75" fill="#fff" stroke="#000" stroke-width="1.6"/>
<circle cx="136.7" cy="276.8" r="5.75" fill="#fff" stroke="#000" stroke-width="1.6"/>
<circle cx="153.8" cy="261.1" r="5.75" fill="#fff" stroke="#000" stroke-width="1.6"/>
<polyline points="103.4,254.1 119.7,247.1 136.5,228.2 153.6,162.6" fill="none" stroke="#000" stroke-width="1.8"/>
<circle cx="103.4" cy="254.1" r="6.5" fill="#000"/>
<circle cx="119.7" cy="247.1" r="6.5" fill="#000"/>
<circle cx="136.5" cy="228.2" r="6.5" fill="#000"/>
<circle cx="153.6" cy="162.6" r="6.5" fill="#000"/>
<polyline points="204.6,247.4 219.5,277.4 236.1,261.6 253.3,266.1" fill="none" stroke="#000" stroke-width="1.8"/>
<circle cx="204.6" cy="247.4" r="5.75" fill="#fff" stroke="#000" stroke-width="1.6"/>
<circle cx="219.5" cy="277.4" r="5.75" fill="#fff" stroke="#000" stroke-width="1.6"/>
<circle cx="236.1" cy="261.6" r="5.75" fill="#fff" stroke="#000" stroke-width="1.6"/>
<circle cx="253.3" cy="266.1" r="5.75" fill="#fff" stroke="#000" stroke-width="1.6"/>
<polyline points="204.6,228.9 219.5,240.2 236.1,228.9 253.3,196.2" fill="none" stroke="#000" stroke-width="1.8"/>
<circle cx="204.6" cy="228.9" r="6.5" fill="#000"/>
<circle cx="219.5" cy="240.2" r="6.5" fill="#000"/>
<circle cx="236.1" cy="228.9" r="6.5" fill="#000"/>
<circle cx="253.3" cy="196.2" r="6.5" fill="#000"/>
<polyline points="313.0,258.1 330.0,261.1 347.2,276.4 364.2,251.2" fill="none" stroke="#000" stroke-width="1.8"/>
<circle cx="313.0" cy="258.1" r="5.75" fill="#fff" stroke="#000" stroke-width="1.6"/>
<circle cx="330.0" cy="261.1" r="5.75" fill="#fff" stroke="#000" stroke-width="1.6"/>
<circle cx="347.2" cy="276.4" r="5.75" fill="#fff" stroke="#000" stroke-width="1.6"/>
<circle cx="364.2" cy="251.2" r="5.75" fill="#fff" stroke="#000" stroke-width="1.6"/>
<polyline points="313.0,217.3 330.0,221.2 347.2,221.2 364.2,206.8" fill="none" stroke="#000" stroke-width="1.8"/>
<circle cx="313.0" cy="217.3" r="6.5" fill="#000"/>
<circle cx="330.0" cy="221.2" r="6.5" fill="#000"/>
<circle cx="347.2" cy="221.2" r="6.5" fill="#000"/>
<circle cx="364.2" cy="206.8" r="6.5" fill="#000"/>
<polyline points="431.4,283.9 448.5,290.9 464.6,268.4 481.8,265.6" fill="none" stroke="#000" stroke-width="1.8"/>
<circle cx="431.4" cy="283.9" r="5.75" fill="#fff" stroke="#000" stroke-width="1.6"/>
<circle cx="448.5" cy="290.9" r="5.75" fill="#fff" stroke="#000" stroke-width="1.6"/>
<circle cx="464.6" cy="268.4" r="5.75" fill="#fff" stroke="#000" stroke-width="1.6"/>
<circle cx="481.8" cy="265.6" r="5.75" fill="#fff" stroke="#000" stroke-width="1.6"/>
<polyline points="431.4,216.9 448.5,209.4 464.3,183.2 480.9,151.2" fill="none" stroke="#000" stroke-width="1.8"/>
<circle cx="431.4" cy="216.9" r="6.5" fill="#000"/>
<circle cx="448.5" cy="209.4" r="6.5" fill="#000"/>
<circle cx="464.3" cy="183.2" r="6.5" fill="#000"/>
<circle cx="480.9" cy="151.2" r="6.5" fill="#000"/>
<polyline points="93.5,424.9 108.5,439.1 125.5,442.1 141.3,427.6" fill="none" stroke="#000" stroke-width="1.8"/>
<circle cx="93.5" cy="424.9" r="5.75" fill="#fff" stroke="#000" stroke-width="1.6"/>
<circle cx="108.5" cy="439.1" r="5.75" fill="#fff" stroke="#000" stroke-width="1.6"/>
<circle cx="125.5" cy="442.1" r="5.75" fill="#fff" stroke="#000" stroke-width="1.6"/>
<circle cx="141.3" cy="427.6" r="5.75" fill="#fff" stroke="#000" stroke-width="1.6"/>
<polyline points="93.5,362.1 108.4,354.8 125.5,354.8 141.3,350.8" fill="none" stroke="#000" stroke-width="1.8"/>
<circle cx="93.5" cy="362.1" r="6.5" fill="#000"/>
<circle cx="108.4" cy="354.8" r="6.5" fill="#000"/>
<circle cx="125.5" cy="354.8" r="6.5" fill="#000"/>
<circle cx="141.3" cy="350.8" r="6.5" fill="#000"/>
<polyline points="207.2,424.4 223.3,431.8 240.3,431.8 257.4,420.1" fill="none" stroke="#000" stroke-width="1.8"/>
<circle cx="207.2" cy="424.4" r="5.75" fill="#fff" stroke="#000" stroke-width="1.6"/>
<circle cx="223.3" cy="431.8" r="5.75" fill="#fff" stroke="#000" stroke-width="1.6"/>
<circle cx="240.3" cy="431.8" r="5.75" fill="#fff" stroke="#000" stroke-width="1.6"/>
<circle cx="257.4" cy="420.1" r="5.75" fill="#fff" stroke="#000" stroke-width="1.6"/>
<polyline points="207.2,416.1 222.9,361.9 240.3,346.6 257.1,320.8" fill="none" stroke="#000" stroke-width="1.8"/>
<circle cx="207.2" cy="416.1" r="6.5" fill="#000"/>
<circle cx="222.9" cy="361.9" r="6.5" fill="#000"/>
<circle cx="240.3" cy="346.6" r="6.5" fill="#000"/>
<circle cx="257.1" cy="320.8" r="6.5" fill="#000"/>
<polyline points="306.1,446.6 322.0,446.6 339.0,431.8 355.1,424.4" fill="none" stroke="#000" stroke-width="1.8"/>
<circle cx="306.1" cy="446.6" r="5.75" fill="#fff" stroke="#000" stroke-width="1.6"/>
<circle cx="322.0" cy="446.6" r="5.75" fill="#fff" stroke="#000" stroke-width="1.6"/>
<circle cx="339.0" cy="431.8" r="5.75" fill="#fff" stroke="#000" stroke-width="1.6"/>
<circle cx="355.1" cy="424.4" r="5.75" fill="#fff" stroke="#000" stroke-width="1.6"/>
<polyline points="306.1,402.4 322.0,408.6 339.0,408.6 355.1,398.6" fill="none" stroke="#000" stroke-width="1.8"/>
<circle cx="306.1" cy="402.4" r="6.5" fill="#000"/>
<circle cx="322.0" cy="408.6" r="6.5" fill="#000"/>
<circle cx="339.0" cy="408.6" r="6.5" fill="#000"/>
<circle cx="355.1" cy="398.6" r="6.5" fill="#000"/>
<polyline points="406.0,412.9 423.0,419.9 438.8,415.1" fill="none" stroke="#000" stroke-width="2.2"/>
<circle cx="406.0" cy="412.9" r="5.75" fill="#fff" stroke="#000" stroke-width="1.6"/>
<circle cx="423.0" cy="419.9" r="5.75" fill="#fff" stroke="#000" stroke-width="1.6"/>
<circle cx="438.8" cy="415.1" r="5.75" fill="#fff" stroke="#000" stroke-width="1.6"/>
<polyline points="406.0,445.8 423.0,441.9 439.1,419.9 455.9,375.8" fill="none" stroke="#000" stroke-width="2.2"/>
<circle cx="406.0" cy="445.8" r="6.5" fill="#000"/>
<circle cx="423.0" cy="441.9" r="6.5" fill="#000"/>
<circle cx="439.1" cy="419.9" r="6.5" fill="#000"/>
<circle cx="455.9" cy="375.8" r="6.5" fill="#000"/>
<line x1="405.2" y1="286.8" x2="412.6" y2="293.2" stroke="#777" stroke-width="0.6"/>
<g font-family="Liberation Sans, sans-serif" font-weight="bold" fill="#000" stroke="#000" stroke-width="0.45" stroke-linejoin="round" opacity="0.999">
<text transform="matrix(0.9395,-0.0035,0,1,88.73,30.50)" font-size="19">4</text>
<text transform="matrix(0.9357,-0.0035,0,1,196.62,30.60)" font-size="19">5</text>
<text transform="matrix(1.0145,-0.0035,0,1,305.98,31.50)" font-size="19">6</text>
<text transform="matrix(1.0526,-0.0035,0,1,408.00,29.40)" font-size="19">9</text>
<text transform="matrix(1.0343,-0.0035,0,1,90.27,177.40)" font-size="19">10</text>
<text transform="matrix(1.1008,-0.0035,0,1,201.89,180.00)" font-size="19">11</text>
<text transform="matrix(1.0343,-0.0035,0,1,301.67,177.10)" font-size="19">12</text>
<text transform="matrix(1.0369,-0.0035,0,1,404.97,176.10)" font-size="19">17</text>
<text transform="matrix(1.0292,-0.0035,0,1,84.28,325.60)" font-size="19">19</text>
<text transform="matrix(1.0272,-0.0035,0,1,192.72,325.40)" font-size="19">20</text>
<text transform="matrix(1.0698,-0.0035,0,1,300.79,324.50)" font-size="19">21</text>
<text transform="matrix(0.9991,-0.0035,0,1,410.63,325.70)" font-size="19">SMC</text>
<text transform="matrix(1.0500,-0.0035,0,1,37.14,19.50)" font-size="16.7">40</text>
<text transform="matrix(1.0347,-0.0035,0,1,37.41,56.10)" font-size="16.7">30</text>
<text transform="matrix(1.0472,-0.0035,0,1,37.19,92.70)" font-size="16.7">20</text>
<text transform="matrix(1.0044,-0.0035,0,1,37.95,129.50)" font-size="16.7">10</text>
<text transform="matrix(1.0500,-0.0035,0,1,37.14,161.60)" font-size="16.7">40</text>
<text transform="matrix(1.0347,-0.0035,0,1,37.41,198.10)" font-size="16.7">30</text>
<text transform="matrix(1.0472,-0.0035,0,1,37.19,234.60)" font-size="16.7">20</text>
<text transform="matrix(1.0044,-0.0035,0,1,37.95,271.00)" font-size="16.7">10</text>
<text transform="matrix(1.0500,-0.0035,0,1,37.14,309.10)" font-size="16.7">40</text>
<text transform="matrix(1.0347,-0.0035,0,1,37.41,345.70)" font-size="16.7">30</text>
<text transform="matrix(1.0472,-0.0035,0,1,37.19,382.10)" font-size="16.7">20</text>
<text transform="matrix(1.0044,-0.0035,0,1,37.95,418.50)" font-size="16.7">10</text>
<text transform="matrix(0.9581,-0.0035,0,1,48.56,448.80)" font-size="16.7">0</text>
<text transform="matrix(1.0887,-0.0035,0,1,71.86,470.50)" font-size="16.7">1</text>
<text transform="matrix(1.0163,-0.0035,0,1,101.54,470.50)" font-size="16.7">10</text>
<text transform="matrix(0.9833,-0.0035,0,1,132.97,470.50)" font-size="16.7">100</text>
<text transform="matrix(1.0140,-0.0035,0,1,160.14,470.50)" font-size="16.7">1000</text>
<text transform="matrix(1.0163,-0.0035,0,1,207.84,470.50)" font-size="16.7">10</text>
<text transform="matrix(0.9910,-0.0035,0,1,238.87,470.50)" font-size="16.7">100</text>
<text transform="matrix(1.0281,-0.0035,0,1,267.43,470.50)" font-size="16.7">1000</text>
<text transform="matrix(0.9926,-0.0035,0,1,314.26,470.50)" font-size="16.7">10</text>
<text transform="matrix(0.9833,-0.0035,0,1,345.27,470.50)" font-size="16.7">100</text>
<text transform="matrix(1.0451,-0.0035,0,1,373.51,470.50)" font-size="16.7">1000</text>
<text transform="matrix(1.0163,-0.0035,0,1,420.84,470.50)" font-size="16.7">10</text>
<text transform="matrix(0.9910,-0.0035,0,1,452.17,470.50)" font-size="16.7">100</text>
<text transform="matrix(1.0253,-0.0035,0,1,479.43,470.50)" font-size="16.7">1000</text>
<text transform="matrix(1.0157,-0.0035,0,1,181.27,507.20)" font-size="18">Effector</text>
<text transform="matrix(1.1121,-0.0035,0,1,261.15,507.20)" font-size="18">Target</text>
<text transform="matrix(1.0531,-0.0035,0,1,327.22,507.20)" font-size="18">Ratio</text>
<path d="M250.9,508.6 L253.0,508.6 L258.7,494.0 L256.6,494.0 Z" stroke="none"/>
<text transform="translate(16.70,333.70) rotate(-90.2) scale(1.1078,1)" x="-0.45" y="0" font-size="18">%</text>
<text transform="translate(16.70,312.70) rotate(-90.2) scale(1.0868,1)" x="-0.54" y="0" font-size="18">Specific</text>
<text transform="translate(16.70,232.40) rotate(-90.2) scale(1.0668,1)" x="-0.58" y="0" font-size="18">51-Cr</text>
<text transform="translate(16.70,175.80) rotate(-90.2) scale(1.0432,1)" x="-1.22" y="0" font-size="18">Release</text>
</g>
<g fill="#fff"><rect x="90.10" y="174.24" width="4.48" height="4.39"/><rect x="97.83" y="174.21" width="3.91" height="4.39"/><rect x="201.79" y="176.84" width="4.71" height="4.39"/><rect x="209.92" y="176.81" width="4.11" height="4.39"/><rect x="212.27" y="176.80" width="4.71" height="4.39"/><rect x="220.40" y="176.77" width="4.11" height="4.39"/><rect x="301.50" y="173.94" width="4.48" height="4.39"/><rect x="309.23" y="173.91" width="3.91" height="4.39"/><rect x="404.80" y="172.94" width="4.49" height="4.39"/><rect x="412.55" y="172.91" width="3.91" height="4.39"/><rect x="84.10" y="322.44" width="4.46" height="4.39"/><rect x="91.80" y="322.41" width="3.89" height="4.39"/><rect x="311.96" y="321.30" width="4.60" height="4.39"/><rect x="319.90" y="321.27" width="4.02" height="4.39"/><rect x="37.62" y="126.57" width="3.97" height="4.15"/><rect x="44.44" y="126.55" width="3.43" height="4.15"/><rect x="37.62" y="268.07" width="3.97" height="4.15"/><rect x="44.44" y="268.05" width="3.43" height="4.15"/><rect x="37.62" y="415.57" width="3.97" height="4.15"/><rect x="44.44" y="415.55" width="3.43" height="4.15"/><rect x="71.61" y="467.57" width="4.22" height="4.15"/><rect x="78.88" y="467.55" width="3.66" height="4.15"/><rect x="101.22" y="467.57" width="4.00" height="4.15"/><rect x="108.10" y="467.55" width="3.47" height="4.15"/><rect x="132.63" y="467.57" width="3.90" height="4.15"/><rect x="139.33" y="467.55" width="3.37" height="4.15"/><rect x="159.82" y="467.57" width="4.00" height="4.15"/><rect x="166.69" y="467.55" width="3.46" height="4.15"/><rect x="207.52" y="467.57" width="4.00" height="4.15"/><rect x="214.40" y="467.55" width="3.47" height="4.15"/><rect x="238.53" y="467.57" width="3.93" height="4.15"/><rect x="245.27" y="467.55" width="3.40" height="4.15"/><rect x="267.12" y="467.57" width="4.04" height="4.15"/><rect x="274.07" y="467.55" width="3.50" height="4.15"/><rect x="313.93" y="467.57" width="3.93" height="4.15"/><rect x="320.68" y="467.55" width="3.40" height="4.15"/><rect x="344.93" y="467.57" width="3.90" height="4.15"/><rect x="351.63" y="467.55" width="3.37" height="4.15"/><rect x="373.22" y="467.57" width="4.09" height="4.15"/><rect x="380.25" y="467.55" width="3.54" height="4.15"/><rect x="420.52" y="467.57" width="4.00" height="4.15"/><rect x="427.40" y="467.55" width="3.47" height="4.15"/><rect x="451.83" y="467.57" width="3.93" height="4.15"/><rect x="458.57" y="467.55" width="3.40" height="4.15"/><rect x="479.12" y="467.57" width="4.03" height="4.15"/><rect x="486.05" y="467.55" width="3.49" height="4.15"/><rect x="13.64" y="218.14" width="4.29" height="4.40"/><rect x="13.64" y="211.12" width="4.29" height="3.83"/></g>
</svg>
</body></html>
